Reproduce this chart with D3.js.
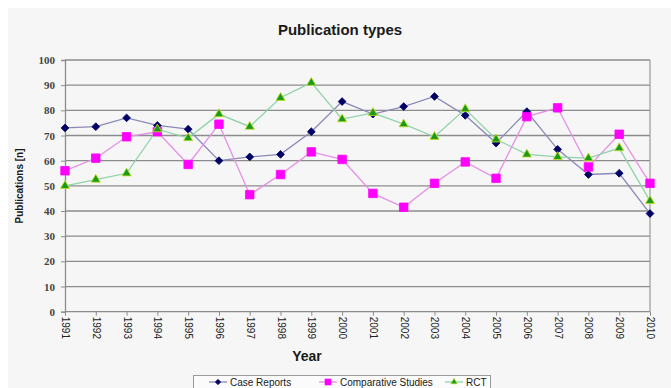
<!DOCTYPE html>
<html>
<head>
<meta charset="utf-8">
<script src="https://cdn.jsdelivr.net/npm/d3@7"></script>
<style>
  html, body { margin: 0; padding: 0; background: #ffffff; }
  svg { display: block; }
</style>
</head>
<body>
<svg id="chart" width="671" height="388"></svg>
<script>
// Publication counts per year, by study type
const years = [1991, 1992, 1993, 1994, 1995, 1996, 1997, 1998, 1999, 2000,
               2001, 2002, 2003, 2004, 2005, 2006, 2007, 2008, 2009, 2010];
const caseReports = [73, 73.5, 77, 74, 72.5, 60, 61.5, 62.5, 71.5, 83.5,
                     78.5, 81.5, 85.5, 78, 67, 79.5, 64.5, 54.5, 55, 39];
const comparativeStudies = [56, 61, 69.5, 71.5, 58.5, 74.5, 46.5, 54.5, 63.5, 60.5,
                            47, 41.5, 51, 59.5, 53, 77.5, 81, 57.5, 70.5, 51];
const rct = [50, 52.5, 55, 72.5, 69, 78.5, 73.5, 85, 91, 76.5,
             79, 74.5, 69.5, 80.5, 68.5, 62.5, 61.5, 61, 65, 44];
const yTicks = [0, 10, 20, 30, 40, 50, 60, 70, 80, 90, 100];

const series = [
  { name: "Case Reports", values: caseReports, line: "#8a8ab8", fill: "#000066", stroke: "#000066", shape: "diamond" },
  { name: "Comparative Studies", values: comparativeStudies, line: "#e58ee5", fill: "#ff00ff", stroke: "#ff00ff", shape: "square" },
  { name: "RCT", values: rct, line: "#8fd3a8", fill: "#1a9a1a", stroke: "#c8e020", shape: "triangle" }
];

const svg = d3.select("#chart");

// chart panel background
svg.append("rect").attr("x", 8).attr("y", 8).attr("width", 663).attr("height", 380)
  .attr("fill", "#f6f6f6");

const plotLeft = 65, plotRight = 650, plotTop = 60, plotBottom = 311.7;

const x = d3.scalePoint().domain(years).range([plotLeft, plotRight]);
const y = d3.scaleLinear().domain([0, 100]).range([plotBottom, plotTop]);

// horizontal gridlines
svg.append("g").selectAll("line").data(yTicks.filter(d => d > 0)).join("line")
  .attr("x1", plotLeft).attr("x2", plotRight)
  .attr("y1", d => y(d)).attr("y2", d => y(d))
  .attr("stroke", "#8c8c8c").attr("stroke-width", 1.3);

// right border of plot area
svg.append("line").attr("x1", plotRight).attr("x2", plotRight).attr("y1", plotTop).attr("y2", plotBottom)
  .attr("stroke", "#9a9a9a").attr("stroke-width", 1.2);

// y axis
const yAxis = svg.append("g").attr("transform", `translate(${plotLeft},0)`)
  .call(d3.axisLeft(y).tickValues(yTicks).tickSize(4).tickPadding(6));
yAxis.select(".domain").attr("stroke", "#8c8c8c").attr("stroke-width", 1.3);
yAxis.selectAll(".tick line").attr("stroke", "#8c8c8c");
yAxis.selectAll("text").attr("font-family", "'Liberation Serif', serif")
  .attr("font-size", 11).attr("font-weight", "bold").attr("fill", "#444");

// x axis
const xAxis = svg.append("g").attr("transform", `translate(0,${plotBottom})`)
  .call(d3.axisBottom(x).tickSize(4).tickPadding(0));
xAxis.select(".domain").attr("stroke", "#8c8c8c").attr("stroke-width", 1.3)
  .attr("d", `M${plotLeft},0H${plotRight}`);
xAxis.selectAll(".tick line").attr("stroke", "#8c8c8c");
xAxis.selectAll("text")
  .attr("font-family", "'Liberation Sans', Arial, sans-serif")
  .attr("font-size", 10).attr("fill", "#222")
  .attr("text-anchor", "start")
  .attr("transform", "translate(0,5) rotate(90)")
  .attr("x", 0).attr("y", 0).attr("dy", "0.35em");

// series lines and markers
const line = d3.line().x((d, i) => x(years[i])).y(d => y(d));
const symbolOf = { diamond: d3.symbolSquare, square: d3.symbolSquare, triangle: d3.symbolTriangle };
const sizeOf = { diamond: 30, square: 72, triangle: 36 };
const rotateOf = { diamond: 45, square: 0, triangle: 0 };

series.forEach(s => {
  svg.append("path").datum(s.values)
    .attr("d", line).attr("fill", "none")
    .attr("stroke", s.line).attr("stroke-width", 1.3);
});
series.forEach(s => {
  svg.append("g").selectAll("path").data(s.values).join("path")
    .attr("transform", (d, i) => `translate(${x(years[i])},${y(d)}) rotate(${rotateOf[s.shape]})`)
    .attr("d", d3.symbol().type(symbolOf[s.shape]).size(sizeOf[s.shape]))
    .attr("fill", s.fill).attr("stroke", s.stroke).attr("stroke-width", 0.8);
});

// titles
svg.append("text").attr("x", 340).attr("y", 35).attr("text-anchor", "middle")
  .attr("font-family", "'Liberation Sans', Arial, sans-serif")
  .attr("font-size", 15).attr("font-weight", "bold").attr("fill", "#1a1a1a")
  .text("Publication types");

svg.append("text").attr("transform", "translate(23,186) rotate(-90)")
  .attr("text-anchor", "middle")
  .attr("font-family", "'Liberation Sans', Arial, sans-serif")
  .attr("font-size", 10).attr("font-weight", "bold").attr("fill", "#1a1a1a")
  .text("Publications [n]");

svg.append("text").attr("x", 307).attr("y", 361).attr("text-anchor", "middle")
  .attr("font-family", "'Liberation Sans', Arial, sans-serif")
  .attr("font-size", 14).attr("font-weight", "bold").attr("fill", "#1a1a1a")
  .text("Year");

// legend
const legend = svg.append("g");
legend.append("rect").attr("x", 193.5).attr("y", 375.5).attr("width", 297).attr("height", 20)
  .attr("fill", "#fbfbfb").attr("stroke", "#9a9a9a");
const legendX = [209, 319, 445];
series.forEach((s, i) => {
  const g = legend.append("g").attr("transform", `translate(${legendX[i]},382)`);
  g.append("line").attr("x1", 0).attr("x2", 18).attr("y1", 0).attr("y2", 0)
    .attr("stroke", s.line).attr("stroke-width", 1.3);
  g.append("path").attr("transform", `translate(9,0) rotate(${rotateOf[s.shape]})`)
    .attr("d", d3.symbol().type(symbolOf[s.shape]).size(sizeOf[s.shape] * 0.5))
    .attr("fill", s.fill).attr("stroke", s.stroke).attr("stroke-width", 0.6);
  g.append("text").attr("x", 21).attr("y", 0).attr("dy", "0.35em")
    .attr("font-family", "'Liberation Sans', Arial, sans-serif")
    .attr("font-size", 10).attr("fill", "#1a1a1a")
    .text(s.name);
});
</script>
</body>
</html>
